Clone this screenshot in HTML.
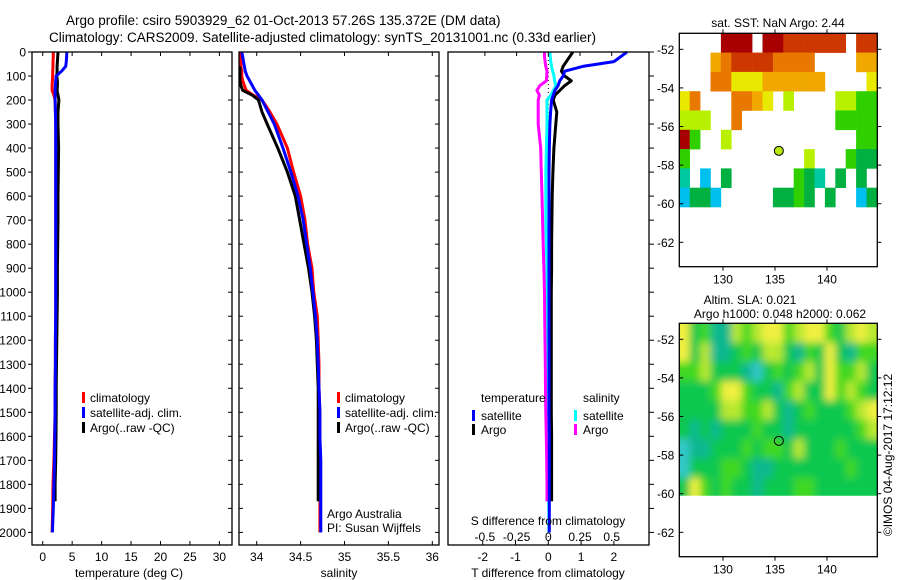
<!DOCTYPE html>
<html><head><meta charset="utf-8"><style>
html,body{margin:0;padding:0;background:#fff;}
svg{display:block;font-family:"Liberation Sans",sans-serif;}
</style></head><body>
<svg id="fig" width="900" height="580" viewBox="0 0 900 580">
<defs>
<filter id="soft" x="-5%" y="-5%" width="110%" height="110%"><feGaussianBlur stdDeviation="4"/></filter>
<clipPath id="slaClip"><rect x="679.3" y="323.3" width="198" height="172.4"/></clipPath>
</defs>
</svg>
<script>
// ---------- data ----------
const depthsClim = [0,20,40,60,80,100,120,140,160,180,200,250,300,400,500,600,700,800,900,1000,1100,1200,1300,1400,1500,1600,1700,1800,1900,2000];
const tempClim  = [1.8,1.8,1.75,1.75,1.7,1.7,1.65,1.6,1.6,1.9,2.1,2.15,2.2,2.2,2.2,2.2,2.2,2.2,2.2,2.2,2.2,2.15,2.15,2.1,2.1,2.0,1.9,1.75,1.7,1.6];
const tempSat   = [4.1,4.05,4.0,3.9,3.2,2.3,2.2,2.15,2.1,2.1,2.1,2.15,2.2,2.2,2.2,2.2,2.2,2.2,2.2,2.2,2.2,2.15,2.15,2.1,2.1,2.05,2.0,1.9,1.8,1.65];
const depthsArgo = [0,20,40,60,80,100,120,140,160,180,200,250,300,400,500,600,700,800,900,1000,1100,1200,1300,1400,1500,1600,1700,1800,1870];
const tempArgo  = [2.6,2.55,2.5,2.45,2.45,2.4,2.5,2.5,2.45,2.6,2.75,2.6,2.6,2.7,2.65,2.6,2.6,2.55,2.5,2.5,2.45,2.4,2.35,2.3,2.3,2.25,2.2,2.1,2.1];
const salClim   = [33.82,33.82,33.82,33.82,33.83,33.83,33.84,33.86,33.88,33.96,34.06,34.15,34.23,34.35,34.42,34.5,34.55,34.58,34.63,34.65,34.69,34.7,34.71,34.71,34.72,34.72,34.72,34.72,34.72,34.72];
const salSat    = [33.83,33.84,33.85,33.86,33.87,33.89,33.92,33.95,33.98,34.02,34.06,34.13,34.2,34.3,34.39,34.47,34.53,34.57,34.61,34.64,34.67,34.69,34.7,34.71,34.72,34.72,34.73,34.73,34.73,34.73];
const salArgo   = [null,null,null,33.81,33.81,33.81,33.81,33.82,33.84,33.95,34.02,34.06,34.12,34.24,34.35,34.44,34.49,34.54,34.59,34.63,34.66,34.68,34.69,34.7,34.7,34.7,34.7,34.7,34.7];
const dTempSat  = [2.4,2.2,2.0,1.05,0.5,0.45,0.35,0.3,0.2,0.15,0.1,0.07,0.05,0.03,0.02,0.02,0.02,0.02,0.02,0.02,0.02,0.02,0.02,0.02,0.02,0.03,0.03,0.03,0.03,0.03];
const dTempArgo = [0.75,0.65,0.55,0.45,0.4,0.5,0.7,0.5,0.35,0.2,0.15,0.26,0.23,0.17,0.14,0.12,0.11,0.1,0.1,0.09,0.09,0.09,0.09,0.09,0.09,0.1,0.1,0.1,0.1];
const dSalSat   = [0.013,0.015,0.02,0.025,0.035,0.045,0.05,0.06,0.04,0.02,-0.01,-0.01,-0.01,-0.015,-0.02,-0.02,-0.02,-0.015,-0.01,-0.01,-0.01,-0.008,-0.006,-0.005,-0.004,-0.002,0,0.002,0.004,0.005];
const dSalArgo  = [-0.03,-0.03,-0.025,-0.02,-0.01,-0.012,-0.015,-0.066,-0.09,-0.07,-0.08,-0.08,-0.08,-0.06,-0.055,-0.05,-0.045,-0.04,-0.035,-0.03,-0.028,-0.026,-0.024,-0.022,-0.02,-0.016,-0.013,-0.01,-0.01];
const depthTicks = [0,100,200,300,400,500,600,700,800,900,1000,1100,1200,1300,1400,1500,1600,1700,1800,1900,2000];
const tempTicks = [0,5,10,15,20,25,30];
const salTicks = [34,34.5,35,35.5,36];
const salTickLabels = ["34","34.5","35","35.5","36"];
const dTTicks = [-2,-1,0,1,2];
const dSTicks = [-0.5,-0.25,0,0.25,0.5];
const latTicks = [52,54,56,58,60,62];
const lonTicks = [130,135,140];
const argoLon = 135.372, argoLat = 57.26;
const sstRows = [
"....999.99888888.88",
"...6788887777....66",
"...77555666666....55",
"57...7765.4....4433",
"444..7.........3333",
"93..4............33",
"3...........4...322",
"1.0.2......321.2.2.",
"0220.....2232.2..02"];
const slaRows = [
"5231143455345532454",
"5241123244213252133",
"3342221023234253342",
"2223553221342253432",
"2222443342123222345",
"2121222322122222234",
"0112223233242223222",
"0222332112222222322",
"2532322122233222222",
"2532322122233222222"];
const sstColors = ["#00c0f0","#00c8a0","#00b040","#30d000","#b8f000","#e8e800","#f0a800","#e87800","#cc3800","#a80000"];
const slaColors = ["#30c8c8","#10b890","#10c850","#40d820","#b8e830","#f0f040"];

// ---------- helpers ----------
const svg = document.getElementById('fig');
const NS = 'http://www.w3.org/2000/svg';
function mk(tag, attrs, parent){const e=document.createElementNS(NS,tag);for(const k in attrs)e.setAttribute(k,attrs[k]);(parent||svg).appendChild(e);return e;}
function txt(x,y,s,size,anchor,parent){const t=mk('text',{x:x,y:y,'font-size':size||12,'text-anchor':anchor||'middle',fill:'#000'},parent);t.textContent=s;return t;}
const yD = d => 52 + d*0.2402;
const xT = v => 42.7 + v*5.89;
const xS = v => 256.7 + (v-34)*87.8;
const xdT = v => 548.3 + v*32.8;
const xdS = v => 548.3 + v*126.8;

function stepLine(depths, vals, xf, color, name){
  let pts=[];
  for(let i=0;i<vals.length;i++){ if(vals[i]===null) continue; pts.push(xf(vals[i]).toFixed(1)+','+yD(depths[i]).toFixed(1)); }
  const p=mk('polyline',{points:pts.join(' '),fill:'none',stroke:color,'stroke-width':3,'stroke-linejoin':'round'});
  
  
  return p;
}
function frame(x1,x2,y1,y2,name){
  const r=mk('rect',{x:x1,y:y1,width:x2-x1,height:y2-y1,fill:'none',stroke:'#000','stroke-width':1.3});
  
  
}

// ---------- titles ----------
let t1=txt(66,25,'Argo profile: csiro 5903929_62 01-Oct-2013 57.26S 135.372E (DM data)',13.5,'start');


let t2=txt(49,42,'Climatology: CARS2009. Satellite-adjusted climatology: synTS_20131001.nc (0.33d earlier)',13.5,'start');



// ---------- panel 1 temperature ----------
const P1={x1:32,x2:232}, P2={x1:239,x2:439}, P3={x1:448,x2:649}, YT=52, YB=545;
const g1=mk('g',{});


depthTicks.forEach(d=>{
  const y=yD(d);
  mk('line',{x1:P1.x1-4,x2:P1.x1,y1:y,y2:y,stroke:'#000'},g1);
  mk('line',{x1:P1.x2-4,x2:P1.x2,y1:y,y2:y,stroke:'#000'},g1);
  mk('line',{x1:P2.x1,x2:P2.x1+4,y1:y,y2:y,stroke:'#000'},g1);
  mk('line',{x1:P2.x2-4,x2:P2.x2,y1:y,y2:y,stroke:'#000'},g1);
  mk('line',{x1:P3.x2,x2:P3.x2+5,y1:y,y2:y,stroke:'#000'},g1);
  const l=txt(P1.x1-6,y+4.5,String(d),12,'end',g1);
  
  
});
tempTicks.forEach(v=>{
  const x=xT(v);
  mk('line',{x1:x,x2:x,y1:YB-4,y2:YB,stroke:'#000'},g1);
  mk('line',{x1:x,x2:x,y1:YT,y2:YT+4,stroke:'#000'},g1);
  const l=txt(x,561,String(v),12,'middle',g1);
  
  
});
let xl=txt(129,577,'temperature (deg C)',12,'middle',g1);


stepLine(depthsClim,tempClim,xT,'#ff0000','temperature-climatology-line');
stepLine(depthsArgo,tempArgo,xT,'#000000','temperature-argo-line');
stepLine(depthsClim,tempSat,xT,'#0000ff','temperature-satellite-line');
frame(P1.x1,P1.x2,YT,YB,'temperature-plot-frame');

function legend3(x,names){
  const items=[['climatology','#ff0000'],['satellite-adj. clim.','#0000ff'],['Argo(..raw -QC)','#000']];
  items.forEach((it,i)=>{
    const y=398+i*15;
    const r=mk('rect',{x:x,y:y-6,width:3,height:11,fill:it[1]});
    
    
    const t=txt(x+8,y+4,it[0],12,'start');
    
    
  });
}
legend3(82,'temperature');

// ---------- panel 2 salinity ----------
salTicks.forEach((v,i)=>{
  const x=xS(v);
  mk('line',{x1:x,x2:x,y1:YB-4,y2:YB,stroke:'#000'});
  mk('line',{x1:x,x2:x,y1:YT,y2:YT+4,stroke:'#000'});
  const l=txt(x,561,salTickLabels[i],12,'middle');
  
  
});
let sl=txt(339,577,'salinity',12,'middle');


stepLine(depthsClim,salClim,xS,'#ff0000','salinity-climatology-line');
stepLine(depthsArgo,salArgo,xS,'#000000','salinity-argo-line');
stepLine(depthsClim,salSat,xS,'#0000ff','salinity-satellite-line');
frame(P2.x1,P2.x2,YT,YB,'salinity-plot-frame');
legend3(337,'salinity');
let aa=txt(327,518,'Argo Australia',12,'start');


let pi=txt(327,532,'PI: Susan Wijffels',12,'start');



// ---------- panel 3 differences ----------
mk('line',{x1:548.3,x2:548.3,y1:YT,y2:YB,stroke:'#000','stroke-dasharray':'1,3','stroke-width':1});
stepLine(depthsClim,dSalSat,xdS,'#00ffff','salinity-satellite-diff-line');
stepLine(depthsArgo,dSalArgo,xdS,'#ff00ff','salinity-argo-diff-line');
stepLine(depthsArgo,dTempArgo,xdT,'#000000','temperature-argo-diff-line');
stepLine(depthsClim,dTempSat,xdT,'#0000ff','temperature-satellite-diff-line');
frame(P3.x1,P3.x2,YT,YB,'difference-plot-frame');
dTTicks.forEach(v=>{
  const x=xdT(v);
  mk('line',{x1:x,x2:x,y1:YB-4,y2:YB,stroke:'#000'});
  const l=txt(x,561,String(v),12,'middle');
  
  
});
dSTicks.forEach(v=>{
  const x=xdS(v);
  mk('line',{x1:x,x2:x,y1:YT,y2:YT+4,stroke:'#000'});
  const l=txt(x,541,String(v),12,'middle');
  
  
});
let st=txt(548,525,'S difference from climatology',12,'middle');


let tt=txt(548,577,'T difference from climatology',12,'middle');


[['temperature',481,[['satellite','#0000ff'],['Argo','#000']]],['salinity',583,[['satellite','#00ffff'],['Argo','#ff00ff']]]].forEach(grp=>{
  const h=txt(grp[1],402,grp[0],12,'start');
  
  
  grp[2].forEach((it,i)=>{
    const y=416+i*14;
    const r=mk('rect',{x:grp[1]-9,y:y-6,width:3,height:11,fill:it[1]});
    
    
    const t=txt(grp[1],y+4,it[0],12,'start');
    
    
  });
});

// ---------- maps ----------
const MX1=679.3, MX2=877.3;
const xLon = lon => MX1 + (lon-125.8)*10.4;
function drawMap(top, rows, colors, name, maxLat, smooth){
  const yLat = lat => top + (lat-51.17)*19.3;
  const g=mk('g',{});
  
  
  let cg=g;
  if(smooth){
    const outer=mk('g',{'clip-path':'url(#slaClip)'},g);
    cg=mk('g',{filter:'url(#soft)'},outer);
  }
  rows.forEach((row,i)=>{
    for(let j=0;j<row.length;j++){
      const c=row[j]; if(c==='.') continue;
      const la0=51.17+i, la1=smooth?la0+1:Math.min(la0+1,maxLat);
      const lo0=125.8+j, lo1=smooth?lo0+1:Math.min(lo0+1,144.8);
      let x0=xLon(lo0), x1=xLon(lo1), y0=yLat(la0), y1=yLat(la1);
      if(smooth){ if(j===0) x0-=12; if(j===row.length-1) x1+=12; if(i===0) y0-=12; }
      const r=mk('rect',{x:x0.toFixed(1),y:y0.toFixed(1),width:(x1-x0+0.3).toFixed(1),height:(y1-y0+0.3).toFixed(1),fill:colors[+c]},cg);
      
      
    }
  });
  const bottom=top+233.4;
  frame(MX1,MX2,top,bottom,name+'-frame');
  latTicks.forEach(l=>{
    const y=yLat(l);
    mk('line',{x1:MX1,x2:MX1+4,y1:y,y2:y,stroke:'#000'},g);
    mk('line',{x1:MX2,x2:MX2+4,y1:y,y2:y,stroke:'#000'},g);
    const t=txt(MX1-5,y+4.5,'-'+l,12,'end',g);
    
    
  });
  lonTicks.forEach(l=>{
    const x=xLon(l);
    mk('line',{x1:x,x2:x,y1:bottom,y2:bottom+4,stroke:'#000'},g);
    mk('line',{x1:x,x2:x,y1:top-4,y2:top,stroke:'#000'},g);
    const t=txt(x,bottom+17,String(l),12,'middle',g);
    
    
  });
  return yLat;
}
const yl1=drawMap(33.3,sstRows,sstColors,'sst-map',63.2,false);
let c1=mk('circle',{cx:xLon(argoLon),cy:yl1(argoLat),r:4.5,fill:'#b8e810',stroke:'#000','stroke-width':1});


let mt1=txt(778,27,'sat. SST: NaN Argo: 2.44',12,'middle');



const yl2=drawMap(323.3,slaRows,slaColors,'sla-map',60.1,true);
let c2=mk('circle',{cx:xLon(argoLon),cy:yl2(argoLat),r:4.5,fill:'none',stroke:'#000','stroke-width':1});


let mt2=txt(750,304,'Altim. SLA: 0.021',12,'middle');


let mt3=txt(780,318,'Argo h1000: 0.048 h2000: 0.062',12,'middle');


let cp=txt(0,0,'©IMOS 04-Aug-2017 17:12:12',12,'middle');
cp.setAttribute('transform','translate(892,455) rotate(-90)');


</script>
</body></html>
